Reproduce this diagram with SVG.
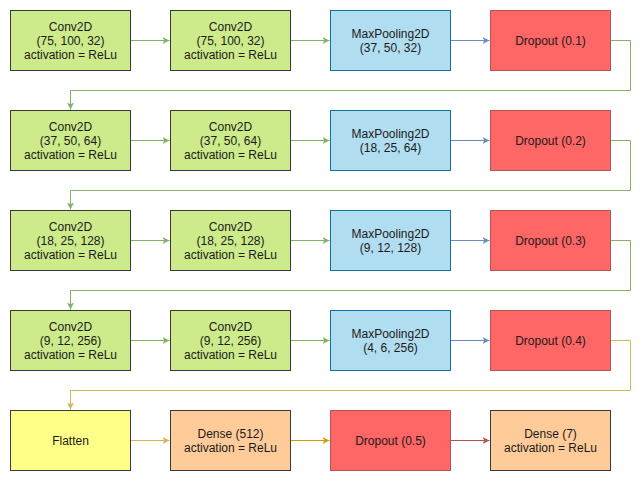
<svg xmlns="http://www.w3.org/2000/svg" width="641" height="481" viewBox="0 0 641 481">
<style>
text{font-family:"Liberation Sans",Arial,sans-serif;font-size:12px;fill:#1a1a1a;text-anchor:middle}
.conv{fill:#cdeb8b;stroke:#36393d}
.pool{fill:#b1ddf0;stroke:#10739e}
.drop{fill:#ff6666;stroke:#b85450}
.flat{fill:#ffff88;stroke:#36393d}
.dense{fill:#ffcc99;stroke:#36393d}
rect{stroke-width:1}
.e{fill:none;stroke-width:1}
.g{stroke:#82b366}.b{stroke:#6c8ebf}.y{stroke:#d6b656}.o{stroke:#d79b00}.r{stroke:#b85450}
</style>
<defs>
<marker id="ag" markerWidth="10" markerHeight="10" refX="7" refY="3.5" orient="auto" markerUnits="userSpaceOnUse"><path d="M0,0 L7,3.5 L0,7 L1.75,3.5 Z" fill="#82b366"/></marker>
<marker id="ab" markerWidth="10" markerHeight="10" refX="7" refY="3.5" orient="auto" markerUnits="userSpaceOnUse"><path d="M0,0 L7,3.5 L0,7 L1.75,3.5 Z" fill="#6c8ebf"/></marker>
<marker id="ay" markerWidth="10" markerHeight="10" refX="7" refY="3.5" orient="auto" markerUnits="userSpaceOnUse"><path d="M0,0 L7,3.5 L0,7 L1.75,3.5 Z" fill="#d6b656"/></marker>
<marker id="ao" markerWidth="10" markerHeight="10" refX="7" refY="3.5" orient="auto" markerUnits="userSpaceOnUse"><path d="M0,0 L7,3.5 L0,7 L1.75,3.5 Z" fill="#d79b00"/></marker>
<marker id="ar" markerWidth="10" markerHeight="10" refX="7" refY="3.5" orient="auto" markerUnits="userSpaceOnUse"><path d="M0,0 L7,3.5 L0,7 L1.75,3.5 Z" fill="#b85450"/></marker>
</defs>
<g id="connectors">
<path class="e g" d="M130.5,40.5 H169.5" marker-end="url(#ag)"/>
<path class="e g" d="M290.5,40.5 H329.5" marker-end="url(#ag)"/>
<path class="e b" d="M450.5,40.5 H489.5" marker-end="url(#ab)"/>
<path class="e g" d="M610.5,40.5 H630.5 V90.5 H70.5 V109.5" marker-end="url(#ag)"/>
<path class="e g" d="M130.5,140.5 H169.5" marker-end="url(#ag)"/>
<path class="e g" d="M290.5,140.5 H329.5" marker-end="url(#ag)"/>
<path class="e b" d="M450.5,140.5 H489.5" marker-end="url(#ab)"/>
<path class="e g" d="M610.5,140.5 H630.5 V190.5 H70.5 V209.5" marker-end="url(#ag)"/>
<path class="e g" d="M130.5,240.5 H169.5" marker-end="url(#ag)"/>
<path class="e g" d="M290.5,240.5 H329.5" marker-end="url(#ag)"/>
<path class="e b" d="M450.5,240.5 H489.5" marker-end="url(#ab)"/>
<path class="e g" d="M610.5,240.5 H630.5 V290.5 H70.5 V309.5" marker-end="url(#ag)"/>
<path class="e g" d="M130.5,340.5 H169.5" marker-end="url(#ag)"/>
<path class="e g" d="M290.5,340.5 H329.5" marker-end="url(#ag)"/>
<path class="e b" d="M450.5,340.5 H489.5" marker-end="url(#ab)"/>
<path class="e y" d="M610.5,340.5 H630.5 V390.5 H70.5 V409.5" marker-end="url(#ay)"/>
<path class="e y" d="M130.5,440.5 H169.5" marker-end="url(#ay)"/>
<path class="e o" d="M290.5,440.5 H329.5" marker-end="url(#ao)"/>
<path class="e r" d="M450.5,440.5 H489.5" marker-end="url(#ar)"/>
</g>
<g id="conv1a"><rect class="conv" x="10.5" y="10.5" width="120" height="60"/><text x="70.5" y="31">Conv2D</text><text x="70.5" y="45">(75, 100, 32)</text><text x="70.5" y="59">activation = ReLu</text></g>
<g id="conv1b"><rect class="conv" x="170.5" y="10.5" width="120" height="60"/><text x="230.5" y="31">Conv2D</text><text x="230.5" y="45">(75, 100, 32)</text><text x="230.5" y="59">activation = ReLu</text></g>
<g id="pool1"><rect class="pool" x="330.5" y="10.5" width="120" height="60"/><text x="390.5" y="38">MaxPooling2D</text><text x="390.5" y="52">(37, 50, 32)</text></g>
<g id="drop1"><rect class="drop" x="490.5" y="10.5" width="120" height="60"/><text x="550.5" y="45">Dropout (0.1)</text></g>

<g id="conv2a"><rect class="conv" x="10.5" y="110.5" width="120" height="60"/><text x="70.5" y="131">Conv2D</text><text x="70.5" y="145">(37, 50, 64)</text><text x="70.5" y="159">activation = ReLu</text></g>
<g id="conv2b"><rect class="conv" x="170.5" y="110.5" width="120" height="60"/><text x="230.5" y="131">Conv2D</text><text x="230.5" y="145">(37, 50, 64)</text><text x="230.5" y="159">activation = ReLu</text></g>
<g id="pool2"><rect class="pool" x="330.5" y="110.5" width="120" height="60"/><text x="390.5" y="138">MaxPooling2D</text><text x="390.5" y="152">(18, 25, 64)</text></g>
<g id="drop2"><rect class="drop" x="490.5" y="110.5" width="120" height="60"/><text x="550.5" y="145">Dropout (0.2)</text></g>

<g id="conv3a"><rect class="conv" x="10.5" y="210.5" width="120" height="60"/><text x="70.5" y="231">Conv2D</text><text x="70.5" y="245">(18, 25, 128)</text><text x="70.5" y="259">activation = ReLu</text></g>
<g id="conv3b"><rect class="conv" x="170.5" y="210.5" width="120" height="60"/><text x="230.5" y="231">Conv2D</text><text x="230.5" y="245">(18, 25, 128)</text><text x="230.5" y="259">activation = ReLu</text></g>
<g id="pool3"><rect class="pool" x="330.5" y="210.5" width="120" height="60"/><text x="390.5" y="238">MaxPooling2D</text><text x="390.5" y="252">(9, 12, 128)</text></g>
<g id="drop3"><rect class="drop" x="490.5" y="210.5" width="120" height="60"/><text x="550.5" y="245">Dropout (0.3)</text></g>

<g id="conv4a"><rect class="conv" x="10.5" y="310.5" width="120" height="60"/><text x="70.5" y="331">Conv2D</text><text x="70.5" y="345">(9, 12, 256)</text><text x="70.5" y="359">activation = ReLu</text></g>
<g id="conv4b"><rect class="conv" x="170.5" y="310.5" width="120" height="60"/><text x="230.5" y="331">Conv2D</text><text x="230.5" y="345">(9, 12, 256)</text><text x="230.5" y="359">activation = ReLu</text></g>
<g id="pool4"><rect class="pool" x="330.5" y="310.5" width="120" height="60"/><text x="390.5" y="338">MaxPooling2D</text><text x="390.5" y="352">(4, 6, 256)</text></g>
<g id="drop4"><rect class="drop" x="490.5" y="310.5" width="120" height="60"/><text x="550.5" y="345">Dropout (0.4)</text></g>

<g id="flatten"><rect class="flat" x="10.5" y="410.5" width="120" height="60"/><text x="70.5" y="445">Flatten</text></g>
<g id="dense512"><rect class="dense" x="170.5" y="410.5" width="120" height="60"/><text x="230.5" y="438">Dense (512)</text><text x="230.5" y="452">activation = ReLu</text></g>
<g id="drop5"><rect class="drop" x="330.5" y="410.5" width="120" height="60"/><text x="390.5" y="445">Dropout (0.5)</text></g>
<g id="dense7"><rect class="dense" x="490.5" y="410.5" width="120" height="60"/><text x="550.5" y="438">Dense (7)</text><text x="550.5" y="452">activation = ReLu</text></g>
</svg>
